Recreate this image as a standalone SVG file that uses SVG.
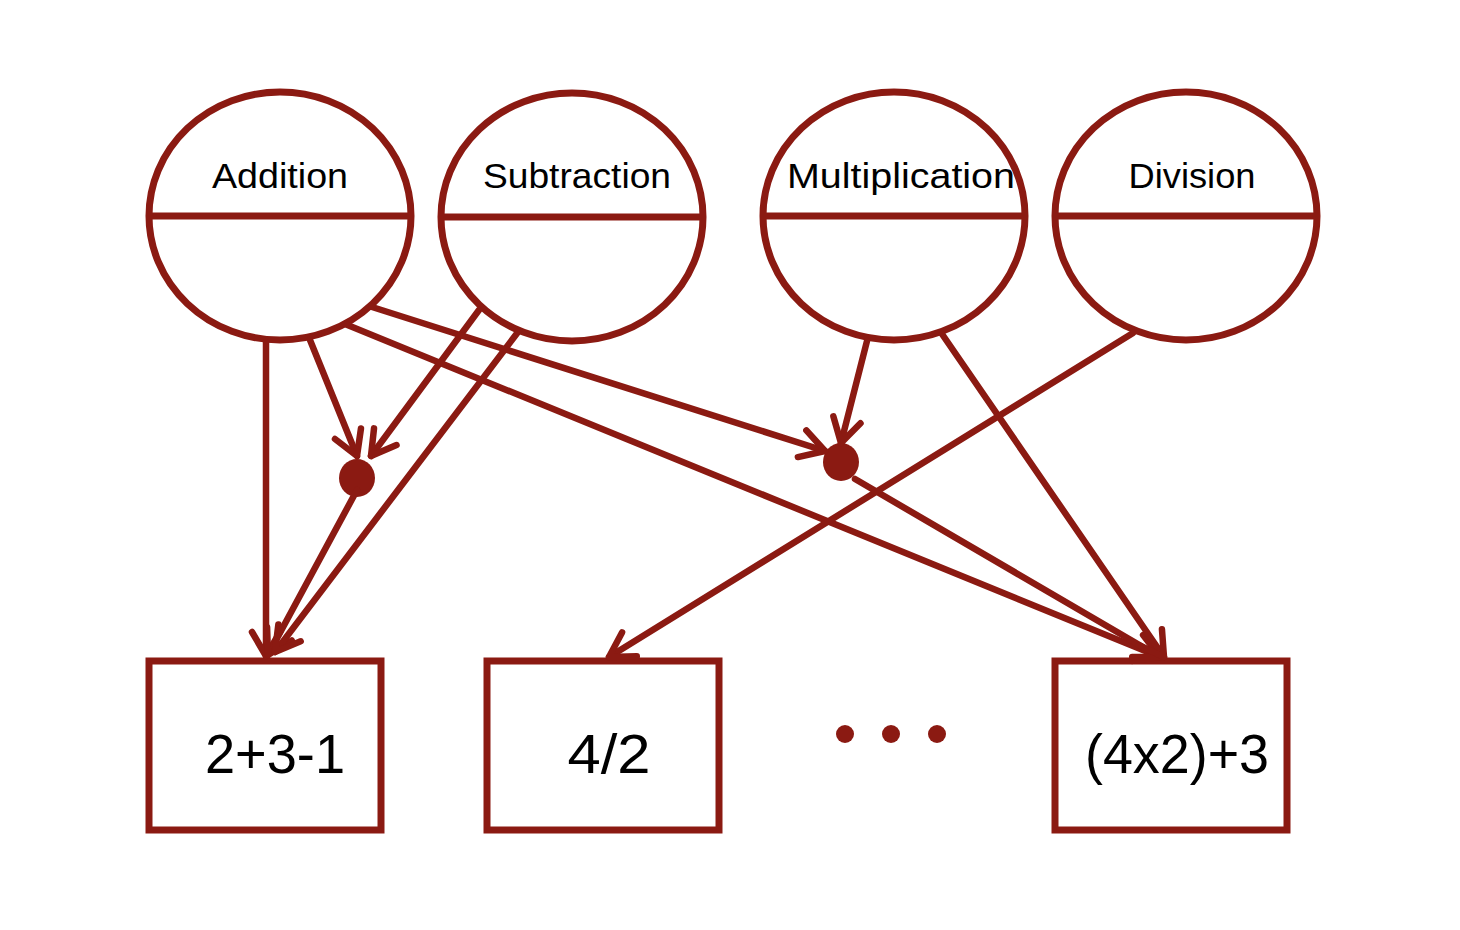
<svg xmlns="http://www.w3.org/2000/svg" width="1460" height="930" viewBox="0 0 1460 930">
<defs>
<style>
.n{fill:#fff;stroke:#8b1a12;stroke-width:7}
.d{stroke:#8b1a12;stroke-width:7}
.c{fill:none;stroke:#8b1a12;stroke-width:6.5;stroke-linecap:round}
.lbl{font-family:"Liberation Sans",Arial,sans-serif;font-size:35px;fill:#000;text-anchor:middle}
.big{font-family:"Liberation Sans",Arial,sans-serif;font-size:56px;fill:#000;text-anchor:middle}
.dot{fill:#8b1a12}
</style>
<marker id="ah" markerUnits="userSpaceOnUse" viewBox="-30 -20 34 40" refX="0" refY="0" markerWidth="34" markerHeight="40" orient="auto" overflow="visible">
<path d="M-24,-14 L0,0 L-24,14" fill="none" stroke="#8b1a12" stroke-width="6.5" stroke-linecap="round" stroke-linejoin="round"/>
</marker>
</defs>
<rect width="1460" height="930" fill="#fff"/>
<g id="addition"><ellipse class="n" cx="280" cy="216" rx="131" ry="124"/><line class="d" x1="149" y1="216" x2="411" y2="216"/><text class="lbl" x="280" y="188" textLength="136" lengthAdjust="spacingAndGlyphs">Addition</text></g>
<g id="subtraction"><ellipse class="n" cx="572" cy="217" rx="131" ry="124"/><line class="d" x1="441" y1="217" x2="703" y2="217"/><text class="lbl" x="577" y="188" textLength="188" lengthAdjust="spacingAndGlyphs">Subtraction</text></g>
<g id="multiplication"><ellipse class="n" cx="894" cy="216" rx="131" ry="124"/><line class="d" x1="763" y1="216" x2="1025" y2="216"/><text class="lbl" x="901" y="188" textLength="228" lengthAdjust="spacingAndGlyphs">Multiplication</text></g>
<g id="division"><ellipse class="n" cx="1186" cy="216" rx="131" ry="124"/><line class="d" x1="1055" y1="216" x2="1317" y2="216"/><text class="lbl" x="1192" y="188" textLength="127" lengthAdjust="spacingAndGlyphs">Division</text></g>
<g id="box1"><rect class="n" x="149" y="661" width="232" height="169"/><text class="big" x="275" y="773" textLength="140" lengthAdjust="spacingAndGlyphs">2+3-1</text></g>
<g id="box2"><rect class="n" x="487" y="661" width="232" height="169"/><text class="big" x="609" y="773" textLength="83" lengthAdjust="spacingAndGlyphs">4/2</text></g>
<g id="box3"><rect class="n" x="1055" y="661" width="232" height="169"/><text class="big" x="1177" y="773" textLength="184" lengthAdjust="spacingAndGlyphs">(4x2)+3</text></g>
<g id="junction1"><ellipse class="dot" cx="357" cy="478" rx="18" ry="19"/></g>
<g id="junction2"><ellipse class="dot" cx="841" cy="462" rx="18" ry="19"/></g>
<g id="ellipsis"><circle class="dot" cx="845" cy="734" r="9"/><circle class="dot" cx="891" cy="734" r="9"/><circle class="dot" cx="937" cy="734" r="9"/></g>
<g id="connectors">
<line class="c" x1="266" y1="342" x2="266" y2="656" marker-end="url(#ah)"/>
<line class="c" x1="310" y1="340" x2="357" y2="456" marker-end="url(#ah)"/>
<line class="c" x1="479" y1="310" x2="371" y2="456" marker-end="url(#ah)"/>
<line class="c" x1="357" y1="490" x2="268" y2="655" marker-end="url(#ah)"/>
<line class="c" x1="518" y1="332" x2="275" y2="652" marker-end="url(#ah)"/>
<line class="c" x1="372" y1="307" x2="825" y2="451" marker-end="url(#ah)"/>
<line class="c" x1="345" y1="324" x2="1160" y2="657" marker-end="url(#ah)"/>
<line class="c" x1="867" y1="341" x2="841" y2="443" marker-end="url(#ah)"/>
<line class="c" x1="855" y1="479" x2="1160" y2="657" marker-end="url(#ah)"/>
<line class="c" x1="942" y1="334" x2="1164" y2="657" marker-end="url(#ah)"/>
<line class="c" x1="1133" y1="333" x2="609" y2="657" marker-end="url(#ah)"/>
</g>
</svg>
